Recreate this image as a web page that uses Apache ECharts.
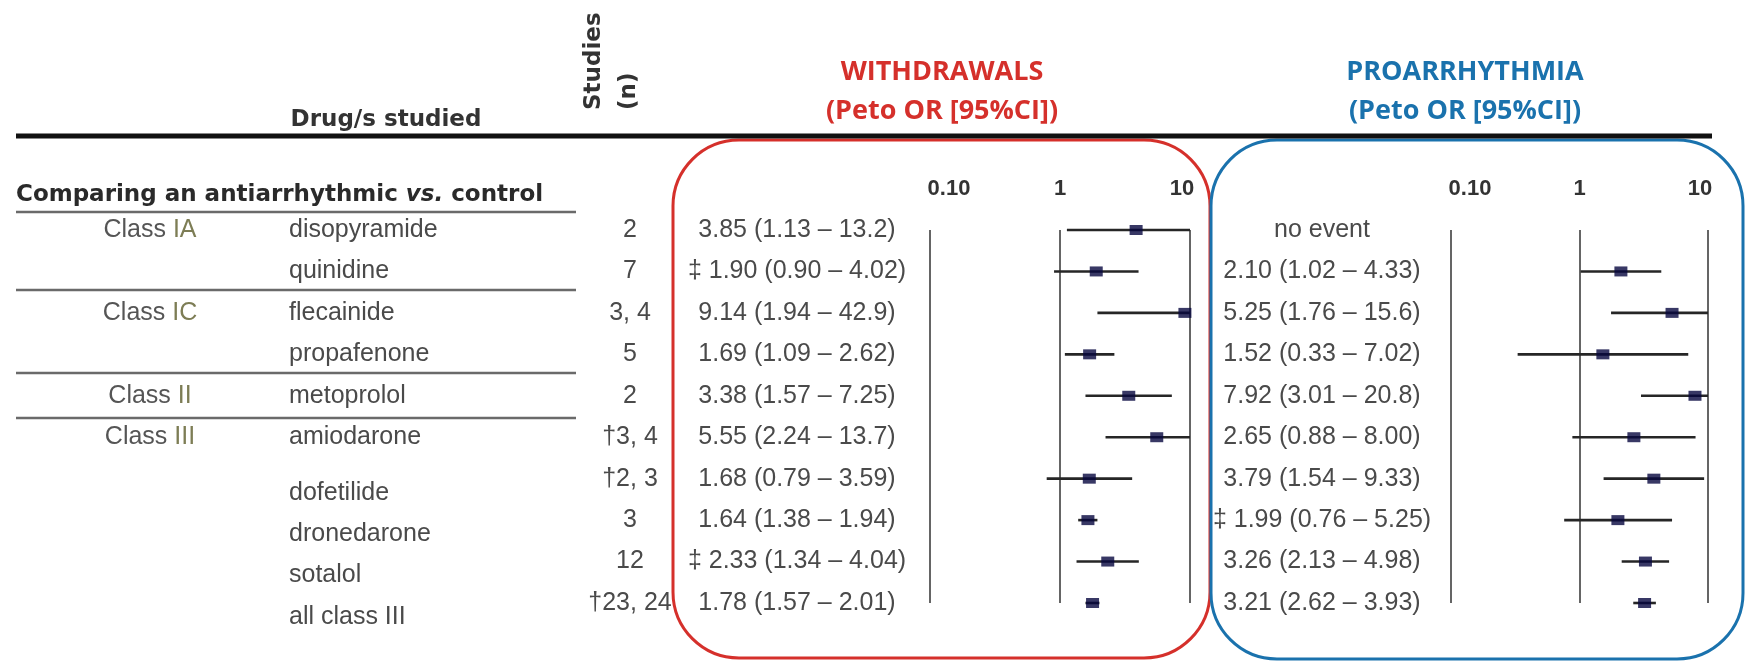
<!DOCTYPE html>
<html><head><meta charset="utf-8">
<script src="https://cdn.jsdelivr.net/npm/echarts@6/dist/echarts.min.js"></script>
<style>html,body{margin:0;padding:0;background:#fff}#c{width:1746px;height:661px}</style>
</head><body><div id="c"></div>
<script>
// ---- data ----
const classLabels = ['Class IA', '', 'Class IC', '', 'Class II', 'Class III', '', '', '', ''];
const drugs = ['disopyramide', 'quinidine', 'flecainide', 'propafenone', 'metoprolol', 'amiodarone', 'dofetilide', 'dronedarone', 'sotalol', 'all class III'];
const studies = ['2', '7', '3, 4', '5', '2', '†3, 4', '†2, 3', '3', '12', '†23, 24'];
const wdMark = ['', '‡', '', '', '', '', '', '', '‡', ''];
const wdOR = [3.85, 1.90, 9.14, 1.69, 3.38, 5.55, 1.68, 1.64, 2.33, 1.78];
const wdLo = [1.13, 0.90, 1.94, 1.09, 1.57, 2.24, 0.79, 1.38, 1.34, 1.57];
const wdHi = [13.2, 4.02, 42.9, 2.62, 7.25, 13.7, 3.59, 1.94, 4.04, 2.01];
const prMark = ['', '', '', '', '', '', '', '‡', '', ''];
const prOR = [null, 2.10, 5.25, 1.52, 7.92, 2.65, 3.79, 1.99, 3.26, 3.21];
const prLo = [null, 1.02, 1.76, 0.33, 3.01, 0.88, 1.54, 0.76, 2.13, 2.62];
const prHi = [null, 4.33, 15.6, 7.02, 20.8, 8.00, 9.33, 5.25, 4.98, 3.93];
const axisMin = 0.1, axisMax = 10;
const noEventText = 'no event';

// ---- helpers ----
const fmt = v => v >= 10 ? v.toFixed(1) : v.toFixed(2);
const ciText = (m, o, l, h) => o == null ? noEventText : (m ? m + ' ' : '') + fmt(o) + ' (' + fmt(l) + ' – ' + fmt(h) + ')';
const wdText = wdOR.map((o, i) => ciText(wdMark[i], o, wdLo[i], wdHi[i]));
const prText = prOR.map((o, i) => ciText(prMark[i], o, prLo[i], prHi[i]));
const rowIdx = drugs.map((d, i) => String(i));

const TF = 'Liberation Sans, Arial, sans-serif';
const HF = '"DejaVu Sans", Verdana, sans-serif';
const txtColor = '#4a4a4a';
const RED = '#d5302b', BLUE = '#1a72ad', MARK = '#06063f', CI = '#262626';

function xAx(gi) {
  return {
    type: 'log', logBase: 10, min: axisMin, max: axisMax, gridIndex: gi, position: 'top',
    axisLine: {show: false}, axisTick: {show: false},
    splitLine: {show: true, lineStyle: {color: '#4a4a4a', width: 1.7}},
    minorSplitLine: {show: false},
    axisLabel: {
      margin: 30, fontSize: 22, fontWeight: 'bold', color: '#333', fontFamily: TF,
      formatter: v => v < 0.5 ? '{a|0.10}' : (v < 5 ? '1' : '{b|10}'),
      rich: {
        a: {fontSize: 22, fontWeight: 'bold', color: '#333', fontFamily: TF, padding: [0, 0, 0, 38]},
        b: {fontSize: 22, fontWeight: 'bold', color: '#333', fontFamily: TF, padding: [0, 16, 0, 0]}
      }
    }
  };
}
function yAx(gi, margin, align, formatter, rich) {
  return {
    type: 'category', gridIndex: gi, data: rowIdx, inverse: true, boundaryGap: false,
    position: 'left', axisLine: {show: false}, axisTick: {show: false}, splitLine: {show: false},
    axisLabel: {interval: 0, margin: margin, align: align, fontSize: 25, color: txtColor, fontFamily: TF,
      formatter: formatter, rich: rich}
  };
}

const shiftRich = {
  n: {fontSize: 25, color: txtColor, fontFamily: TF},
  s: {fontSize: 25, color: txtColor, fontFamily: TF, padding: [28, 0, 0, 0]},
  c: {fontSize: 25, color: '#555', fontFamily: TF},
  r: {fontSize: 25, color: '#7d7d55', fontFamily: TF}
};

function ciSeries(name, xi, yi, lo, hi) {
  const data = [];
  lo.forEach((l, i) => { if (l != null) data.push([l, hi[i], i]); });
  return {
    type: 'custom', name: name, xAxisIndex: xi, yAxisIndex: yi, data: data, z: 3,
    encode: {x: [0, 1], y: 2},
    renderItem: (params, api) => {
      const l = Math.max(api.value(0), axisMin), h = Math.min(api.value(1), axisMax), r = api.value(2);
      const p1 = api.coord([l, r]), p2 = api.coord([h, r]);
      return {type: 'line', shape: {x1: p1[0], y1: p1[1], x2: p2[0], y2: p2[1]},
        style: {stroke: CI, lineWidth: 2.6}};
    }
  };
}
function ptSeries(name, xi, yi, or) {
  const data = [];
  or.forEach((o, i) => { if (o != null) data.push([o, i]); });
  return {type: 'scatter', name: name, xAxisIndex: xi, yAxisIndex: yi, data: data, z: 4,
    symbol: 'rect', symbolSize: [13, 10], itemStyle: {color: MARK}, silent: true};
}

const chart = echarts.init(document.getElementById('c'), null, {renderer: 'canvas'});
const W = 1746, H = 661;

const g = [];
// rounded boxes
g.push({type: 'rect', z: 1, shape: {x: 673, y: 140, width: 537, height: 518, r: 66},
  style: {fill: 'none', stroke: RED, lineWidth: 3}});
g.push({type: 'rect', z: 1, shape: {x: 1211, y: 140, width: 532, height: 519, r: 66},
  style: {fill: 'none', stroke: BLUE, lineWidth: 3}});
// header rule
g.push({type: 'line', z: 5, shape: {x1: 16, y1: 136, x2: 1712, y2: 136}, style: {stroke: '#111', lineWidth: 5}});
// table rules
[212, 290, 373, 418].forEach(y => g.push({type: 'line', z: 2, shape: {x1: 16, y1: y, x2: 576, y2: y},
  style: {stroke: '#6a6a6a', lineWidth: 2.5}}));
// headers
g.push({type: 'text', x: 386, y: 120, style: {text: 'Drug/s studied', font: 'bold 23px ' + HF, fill: '#333',
  textAlign: 'center', textVerticalAlign: 'middle'}});
g.push({type: 'text', x: 594, y: 110, rotation: Math.PI / 2, style: {text: 'Studies', font: 'bold 23px ' + HF,
  fill: '#333', textAlign: 'left', textVerticalAlign: 'middle'}});
g.push({type: 'text', x: 629, y: 110, rotation: Math.PI / 2, style: {text: '(n)', font: 'bold 23px ' + HF,
  fill: '#333', textAlign: 'left', textVerticalAlign: 'middle'}});
g.push({type: 'text', x: 16, y: 195, style: {
  text: '{a|Comparing an antiarrhythmic }{i|vs.}{a| control}',
  rich: {a: {font: 'bold 23px ' + HF, fill: '#2a2a2a'}, i: {font: 'italic bold 23px ' + HF, fill: '#2a2a2a'}},
  textAlign: 'left', textVerticalAlign: 'middle'}});
const TT = 'bold 27px "Open Sans", sans-serif';
g.push({type: 'text', x: 942, y: 72, style: {text: 'WITHDRAWALS', font: TT, fill: RED, textAlign: 'center', textVerticalAlign: 'middle'}});
g.push({type: 'text', x: 942, y: 111, style: {text: '(Peto OR [95%CI])', font: TT, fill: RED, textAlign: 'center', textVerticalAlign: 'middle'}});
g.push({type: 'text', x: 1465, y: 72, style: {text: 'PROARRHYTHMIA', font: TT, fill: BLUE, textAlign: 'center', textVerticalAlign: 'middle'}});
g.push({type: 'text', x: 1465, y: 111, style: {text: '(Peto OR [95%CI])', font: TT, fill: BLUE, textAlign: 'center', textVerticalAlign: 'middle'}});

const option = {
  backgroundColor: '#fff',
  animation: false,
  grid: [
    {left: 930, right: W - 1190, top: 230, bottom: H - 603},
    {left: 1451, right: W - 1708, top: 230, bottom: H - 603}
  ],
  xAxis: [xAx(0), xAx(1)],
  yAxis: [
    yAx(0, 133, 'center', (v, i) => wdText[i]),
    yAx(0, 300, 'center', (v, i) => studies[i]),
    yAx(0, 641, 'left', (v, i) => '{' + (i >= 6 ? 's' : 'n') + '|' + drugs[i] + '}', shiftRich),
    yAx(0, 780, 'center', (v, i) => {
      const c = classLabels[i];
      if (!c) return '';
      const k = c.indexOf(' ');
      return '{c|' + c.slice(0, k) + ' }{r|' + c.slice(k + 1) + '}';
    }, shiftRich),
    yAx(1, 129, 'center', (v, i) => prText[i])
  ],
  series: [
    ciSeries('wdCI', 0, 0, wdLo, wdHi),
    ptSeries('wdOR', 0, 0, wdOR),
    ciSeries('prCI', 1, 4, prLo, prHi),
    ptSeries('prOR', 1, 4, prOR)
  ],
  graphic: g
};
chart.setOption(option);
</script>
</body></html>
